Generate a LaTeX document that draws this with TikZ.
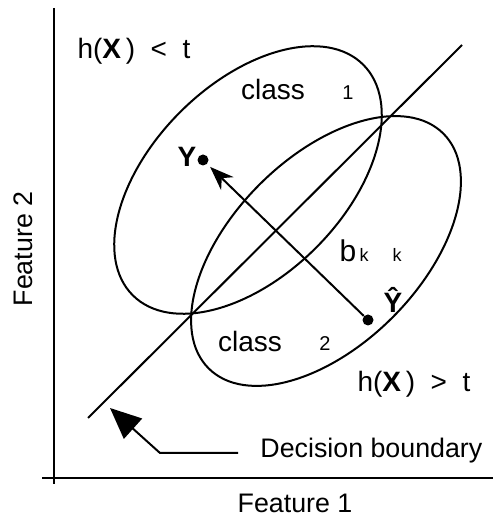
\documentclass[tikz,border=0pt]{standalone}
\usepackage{fontspec}
\setmainfont{Liberation Sans}
\usetikzlibrary{arrows.meta}

\begin{document}
\begin{tikzpicture}[
  x=0.5pt,y=0.5pt,
  >=Stealth,
  axis/.style={line width=1.4pt},
  curve/.style={line width=1pt},
  lbl/.style={font=\fontsize{13.4}{15}\selectfont,inner sep=0pt,anchor=base},
  big/.style={font=\fontsize{14}{16}\selectfont,inner sep=0pt,anchor=base},
  sub/.style={font=\fontsize{10}{12}\selectfont,inner sep=0pt,anchor=base},
  tiny/.style={font=\fontsize{9}{11}\selectfont,inner sep=0pt,anchor=base},
  dot/.style={circle,fill,inner sep=0pt,minimum size=5.5pt}
]
  \useasboundingbox (0,0) rectangle (493,519);
  % axes
  \coordinate (ytop) at (54,511);
  \coordinate (ybot) at (54,35);
  \coordinate (xleft) at (42,41);
  \coordinate (xright) at (493,41);
  \draw[axis] (ytop) -- (ybot);
  \draw[axis] (xleft) -- (xright);
  \node[lbl] (feat1) at (295,6) {Feature 1};
  \node[lbl,rotate=90,anchor=center] (feat2) at (23,270) {Feature 2};
  % the two classes
  \draw[curve,rotate around={45:(248,339)}] (248,339) ellipse [x radius=81.5pt,y radius=48pt];
  \draw[curve,rotate around={45:(326,268)}] (326,268) ellipse [x radius=83pt,y radius=47pt];
  % decision boundary
  \coordinate (db1) at (88,101);
  \coordinate (db2) at (462,474);
  \draw[curve] (db1) -- (db2);
  % regions
  \node[big] (below) at (134,460) {h(\textbf{X}\,)\ \ <\ \ t};
  \node[big] (above) at (414,127) {h(\textbf{X}\,)\ \ >\ \ t};
  \node[big] (cls1) at (273,419) {class};
  \node[sub] (one) at (348,419) {1};
  \node[big] (cls2) at (250,167) {class};
  \node[sub] (two) at (325,168) {2};
  % projection
  \node[dot] (y) at (203,359) {};
  \node[dot] (yhat) at (368,199) {};
  \draw[curve,-{Stealth[length=12pt,width=9pt]},shorten >=2pt] (yhat) -- (y);
  \node[big] (ylbl) at (187,352) {\textbf{Y}};
  \node[big] (yhatlbl) at (393,206) {\textbf{Ŷ}};
  \node[font=\fontsize{15}{17}\selectfont,inner sep=0pt,anchor=base] (b) at (348,257) {b};
  \node[tiny] (k1) at (364,257) {k};
  \node[tiny] (k2) at (397,257) {k};
  % label of the boundary
  \node[lbl,anchor=base west] (dblbl) at (260,61) {Decision boundary};
  \coordinate (lead) at (238,66);
  \coordinate (bend) at (160,66);
  \coordinate (tip) at (110,111);
  \draw[curve,-{Triangle[length=15.5pt,width=13.5pt]}] (lead) -- (bend) -- (tip);
\end{tikzpicture}
\end{document}
